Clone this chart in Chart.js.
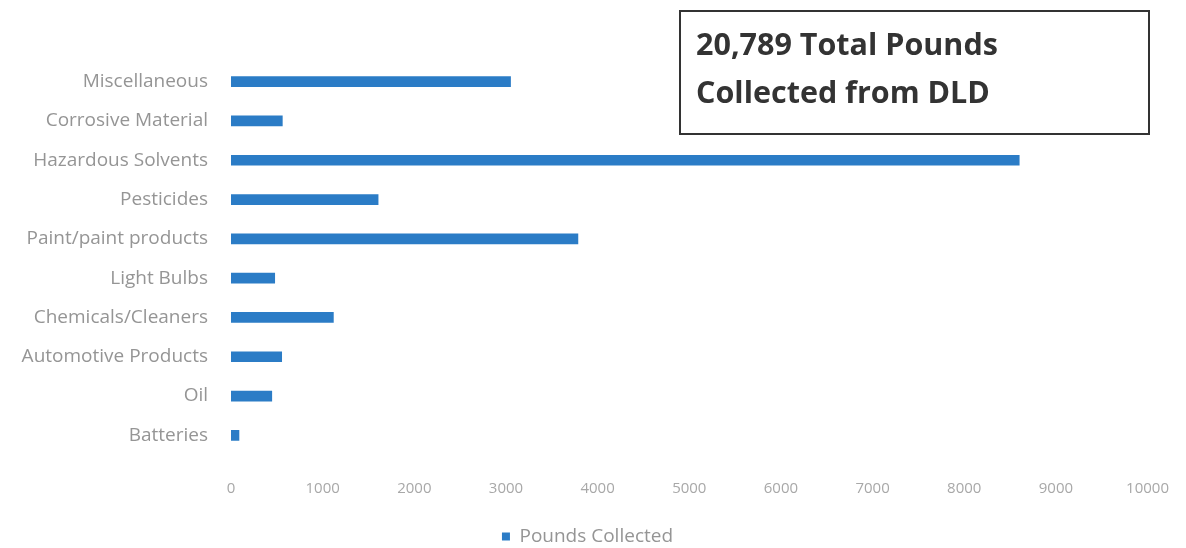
<!DOCTYPE html>
<html>
<head>
<meta charset="utf-8">
<script src="https://cdn.jsdelivr.net/npm/chart.js@4"></script>
<style>
  html, body { margin: 0; padding: 0; background: #fff; }
  #wrap { position: relative; width: 1186px; height: 548px; overflow: hidden; }
  #note {
    position: absolute; left: 679px; top: 10px; width: 471px; height: 125px;
    box-sizing: border-box; border: 2px solid #333;
    padding: 7px 0 0 15px;
    font-family: "Open Sans", sans-serif; font-weight: 700; font-size: 30.5px;
    line-height: 48px; color: #333;
  }
</style>
</head>
<body>
<div id="wrap">
  <canvas id="chart" width="1186" height="548"></canvas>
  <div id="note">20,789 Total Pounds<br>Collected from DLD</div>
</div>
<script>
// Bar ends estimated against the 0-10000 axis
const categories = [
  'Miscellaneous', 'Corrosive Material', 'Hazardous Solvents', 'Pesticides',
  'Paint/paint products', 'Light Bulbs', 'Chemicals/Cleaners',
  'Automotive Products', 'Oil', 'Batteries'
];
const pounds = [3050, 560, 8600, 1605, 3785, 477, 1117, 553, 445, 87];
const xTicks = [0, 1000, 2000, 3000, 4000, 5000, 6000, 7000, 8000, 9000, 10000];
const seriesName = 'Pounds Collected';

const BLUE = '#2b7cc6';
const GREY = '#959595';

const ctx = document.getElementById('chart');
new Chart(ctx, {
  type: 'bar',
  data: {
    labels: categories,
    datasets: [{
      label: seriesName,
      data: pounds,
      backgroundColor: BLUE,
      borderWidth: 0,
      barThickness: 10
    }]
  },
  options: {
    indexAxis: 'y',
    responsive: false,
    animation: false,
    layout: { padding: { top: 62, right: 11, bottom: -8, left: 0 } },
    plugins: {
      legend: {
        position: 'bottom',
        labels: {
          color: GREY,
          font: { family: 'Open Sans', size: 19 },
          boxWidth: 8,
          boxHeight: 8,
          padding: 2
        }
      },
      tooltip: { enabled: false }
    },
    scales: {
      x: {
        min: 0,
        max: 10000,
        afterBuildTicks: (scale) => { scale.ticks = xTicks.map(v => ({ value: v })); },
        afterFit: (scale) => { scale.height = 70; },
        grid: { display: false },
        border: { display: false },
        ticks: {
          color: '#a8a8a8',
          font: { family: 'Open Sans', size: 15 },
          padding: 17,
          maxRotation: 0,
          callback: (v) => String(v)
        }
      },
      y: {
        afterFit: (scale) => { scale.width = 231; },
        grid: { display: false },
        border: { display: false },
        ticks: {
          color: GREY,
          font: { family: 'Open Sans', size: 19 },
          padding: 15
        }
      }
    }
  }
});
</script>
</body>
</html>
